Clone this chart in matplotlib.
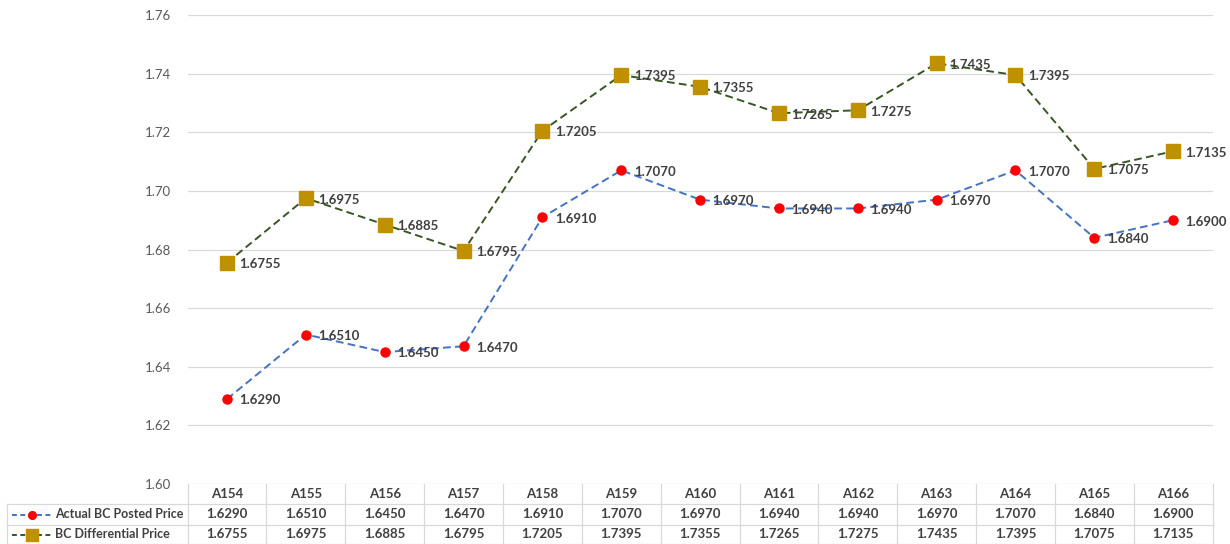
import matplotlib.pyplot as plt
from matplotlib.lines import Line2D

plt.rcParams["font.family"] = ["Lato", "DejaVu Sans"]

# 系列データ
batches = ["A154", "A155", "A156", "A157", "A158", "A159", "A160",
           "A161", "A162", "A163", "A164", "A165", "A166"]
posted = [1.6290, 1.6510, 1.6450, 1.6470, 1.6910, 1.7070, 1.6970,
          1.6940, 1.6940, 1.6970, 1.7070, 1.6840, 1.6900]
differential = [1.6755, 1.6975, 1.6885, 1.6795, 1.7205, 1.7395, 1.7355,
                1.7265, 1.7275, 1.7435, 1.7395, 1.7075, 1.7135]
series_names = ["Actual BC Posted Price", "BC Differential Price"]

y_ticks = [1.60, 1.62, 1.64, 1.66, 1.68, 1.70, 1.72, 1.74, 1.76]

text_col = "#404040"
grid_col = "#d9d9d9"

fig = plt.figure(figsize=(12.3, 5.44), dpi=100)
ax = fig.add_axes([187.6 / 1230, 60 / 544, 1025 / 1230, 469 / 544])

x = list(range(len(batches)))
styles = [
    dict(color="#4472C4", marker="o", mfc="#FF0000", mec="#FF0000", ms=6.5),
    dict(color="#375623", marker="s", mfc="#BF9000", mec="#BF9000", ms=10),
]
dash = (0, (4, 2.2))
for vals, st in zip([posted, differential], styles):
    ax.plot(x, vals, linestyle=dash, lw=1.4, zorder=3, **st)
    for xi, v in zip(x, vals):
        ax.annotate(f"{v:.4f}", (xi, v), xytext=(9, -1), textcoords="offset points",
                    ha="left", va="center", fontsize=9.5, fontweight="bold",
                    color=text_col, zorder=4)

ax.set_xlim(-0.5, len(batches) - 0.5)
ax.set_ylim(1.60, 1.76)
ax.set_yticks(y_ticks)
ax.set_yticklabels([f"{t:.2f}" for t in y_ticks])
ax.tick_params(axis="y", length=0, pad=12, labelsize=9.5, labelcolor="#595959")
ax.set_xticks([])
ax.grid(axis="y", color=grid_col, lw=0.9)
ax.set_axisbelow(True)
for s in ax.spines.values():
    s.set_visible(False)

# データテーブル (x はデータ座標, y は軸の比率)
tr = ax.get_xaxis_transform()
px_x = 1025 / len(batches)
px_y = 469.0
row_edges = [0, -20 / px_y, -41 / px_y, -60 / px_y]
label_left = -0.5 - 180.6 / px_x

for i in range(len(batches) + 1):
    ax.plot([i - 0.5, i - 0.5], [row_edges[0], row_edges[-1]], transform=tr,
            color=grid_col, lw=0.9, clip_on=False)
ax.plot([label_left, label_left], [row_edges[1], row_edges[-1]], transform=tr,
        color=grid_col, lw=0.9, clip_on=False)
for ye in row_edges[1:]:
    ax.plot([label_left, len(batches) - 0.5], [ye, ye], transform=tr,
            color=grid_col, lw=0.9, clip_on=False)

row_mid = [(row_edges[k] + row_edges[k + 1]) / 2 for k in range(3)]
for xi, name in zip(x, batches):
    ax.text(xi, row_mid[0], name, transform=tr, ha="center", va="center",
            fontsize=9.5, fontweight="bold", color=text_col)
for r, vals in enumerate([posted, differential], start=1):
    for xi, v in zip(x, vals):
        ax.text(xi, row_mid[r], f"{v:.4f}", transform=tr, ha="center", va="center",
                fontsize=9.5, fontweight="bold", color=text_col)

# 凡例キー付きの行ラベル
for r, (name, st) in enumerate(zip(series_names, styles), start=1):
    x0 = label_left + 5 / px_x
    x1 = label_left + 45 / px_x
    xm = (x0 + x1) / 2
    ax.add_line(Line2D([x0, x1], [row_mid[r]] * 2, transform=tr,
                       color=st["color"], lw=1.4, linestyle=(0, (2.5, 1.8)),
                       clip_on=False))
    ax.add_line(Line2D([xm], [row_mid[r]], transform=tr, marker=st["marker"],
                       mfc=st["mfc"], mec=st["mec"], ms=st["ms"] * 0.85,
                       linestyle="none", clip_on=False))
    ax.text(label_left + 48 / px_x, row_mid[r], name, transform=tr,
            ha="left", va="center", fontsize=9, fontweight="bold", color=text_col)

fig.savefig("out.png", dpi=100)
